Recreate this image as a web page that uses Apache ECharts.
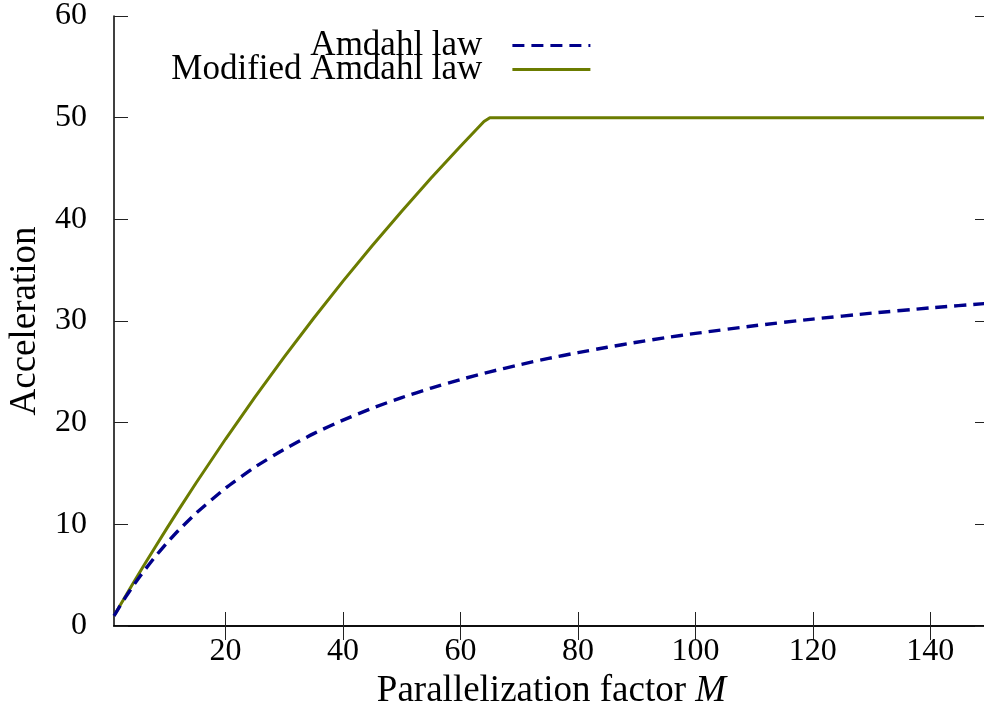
<!DOCTYPE html>
<html>
<head>
<meta charset="utf-8">
<script src="https://cdn.jsdelivr.net/npm/echarts@6/dist/echarts.min.js"></script>
<style>html,body{margin:0;padding:0;background:#fff}#c{width:984px;height:704px}</style>
</head>
<body>
<div id="c"></div>
<script>
// Parallelization factor M and accelerations
const amdahlM = [1,2,3,4,5,6,8,10,12,15,20,25,30,35,40,45,50,55,60,65,70,75,80,85,90,95,100,110,120,130,140,150];
const amdahlS = [1,1.95,2.86,3.72,4.55,5.33,6.81,8.16,9.41,11.11,13.56,15.63,17.39,18.92,20.25,21.43,22.47,23.40,24.24,25.0,25.69,26.32,26.89,27.42,27.91,28.36,28.78,29.53,30.19,30.77,31.29,31.75];
const modM = [1,2,3,4,5,6,8,10,12,15,20,25,30,35,40,45,50,55,60,64,65,70,100,150];
const modS = [1,1.99,2.97,3.95,4.91,5.87,7.75,9.60,11.42,14.09,18.39,22.51,26.47,30.27,33.92,37.43,40.80,44.06,47.19,49.62,50,50,50,50];
const xTicks = [20,40,60,80,100,120,140];
const seriesNames = ['Amdahl law','Modified Amdahl law'];
const axisNames = ['Parallelization factor {i|M}','Acceleration'];

const FONT = 'Liberation Serif';
const pair = (xs, ys) => xs.map((x, i) => [x, ys[i]]);

const chart = echarts.init(document.getElementById('c'), null, {renderer: 'canvas'});
const tickStyle = {show: true, inside: true, length: 14, lineStyle: {color: '#222', width: 1}};
const lineStyle = {show: true, lineStyle: {color: '#000', width: 1.5}};
chart.setOption({
  animation: false,
  backgroundColor: '#fff',
  grid: {left: 114, top: 16, width: 875, height: 610, containLabel: false, outerBoundsMode: 'none'},
  legend: {
    orient: 'vertical', align: 'right', right: 392, top: 28, padding: 0,
    itemWidth: 78, itemHeight: 14, itemGap: -11,
    data: seriesNames,
    itemStyle: {color: 'rgba(0,0,0,0)', borderWidth: 0, opacity: 0},
    lineStyle: {width: 3.2},
    textStyle: {fontFamily: FONT, fontSize: 35, color: '#000', lineHeight: 25, padding: [0, 25, 0, 0]}
  },
  xAxis: [{
    type: 'value', min: 1, max: 150, position: 'bottom',
    name: axisNames[0], nameLocation: 'middle', nameGap: 40,
    nameTextStyle: {fontFamily: FONT, fontSize: 37, color: '#000',
      rich: {i: {fontFamily: FONT, fontSize: 37, fontStyle: 'italic', color: '#000'}}},
    axisLine: lineStyle,
    axisTick: Object.assign({customValues: xTicks}, tickStyle),
    axisLabel: {customValues: xTicks, fontFamily: FONT, fontSize: 32, color: '#000', margin: 10},
    splitLine: {show: false}
  }, {
    type: 'value', min: 1, max: 150, position: 'top',
    axisLine: lineStyle,
    axisTick: Object.assign({customValues: xTicks}, tickStyle),
    axisLabel: {show: false}, splitLine: {show: false}
  }],
  yAxis: [{
    type: 'value', min: 0, max: 60, interval: 10, position: 'left',
    name: axisNames[1], nameLocation: 'middle', nameGap: 70,
    nameTextStyle: {fontFamily: FONT, fontSize: 37, color: '#000'},
    axisLine: lineStyle, axisTick: tickStyle,
    axisLabel: {fontFamily: FONT, fontSize: 32, color: '#000', margin: 27},
    splitLine: {show: false}
  }, {
    type: 'value', min: 0, max: 60, interval: 10, position: 'right',
    axisLine: lineStyle, axisTick: tickStyle,
    axisLabel: {show: false}, splitLine: {show: false}
  }],
  series: [{
    name: seriesNames[1], type: 'line', data: pair(modM, modS),
    symbol: 'none', color: '#6b7c00',
    lineStyle: {color: '#6b7c00', width: 3}, z: 2
  }, {
    name: seriesNames[0], type: 'line', data: pair(amdahlM, amdahlS),
    symbol: 'none', smooth: 0.2, color: '#00008b',
    lineStyle: {color: '#00008b', width: 3.4, type: [12, 7]}, z: 3
  }]
});
</script>
</body>
</html>
